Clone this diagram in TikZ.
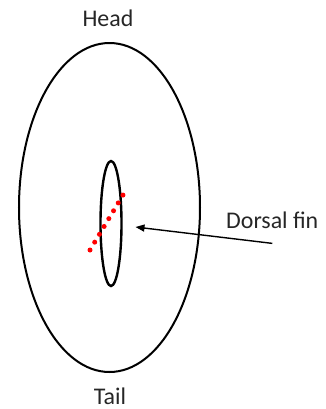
\documentclass[tikz,border=0pt]{standalone}
\usepackage{fontspec}
\setmainfont{Carlito}
\usetikzlibrary{shapes.geometric, arrows.meta, positioning, calc}

\begin{document}
\begin{tikzpicture}[x=1bp, y=-1bp,
  outline/.style={ellipse, draw=black, inner sep=0pt, outer sep=0pt},
  lbl/.style={font=\fontsize{24}{28}\selectfont, text=black!85, inner sep=0pt},
  arr/.style={-{Triangle[length=9bp, width=7bp]}, black, line width=1.4bp},
  cut/.style={draw=red, line width=5bp, line cap=round,
              dash pattern=on 0bp off 9.15bp},
]
  \useasboundingbox (0,0) rectangle (326,409);

  %% -- body and fin ---------------------------------------------------
  \node[outline, line width=2bp, minimum width=181bp, minimum height=329bp]
        (body) at (109.5,207.5) {};
  \node[outline, line width=2.4bp, minimum width=21bp, minimum height=125bp]
        (fin) at (111,223.5) {};

  %% -- labels ---------------------------------------------------------
  \node[lbl] (head) at (108,18)  {Head};
  \node[lbl] (tail) at (110,396) {Tail};
  \node[lbl, anchor=base west] (dfin) at (226,228) {Dorsal fin};

  %% -- dotted cut across the fin --------------------------------------
  \coordinate (cutA) at (90,250);
  \coordinate (cutB) at (123,195);
  \draw[cut] (cutA) -- (cutB);

  %% -- pointer ---------------------------------------------------------
  \coordinate (tip) at ($(fin.east)+(14bp,-3.5bp)$);
  \draw[arr] ($(dfin.south)+(0,-15bp)$) -- (tip);

\end{tikzpicture}
\end{document}
